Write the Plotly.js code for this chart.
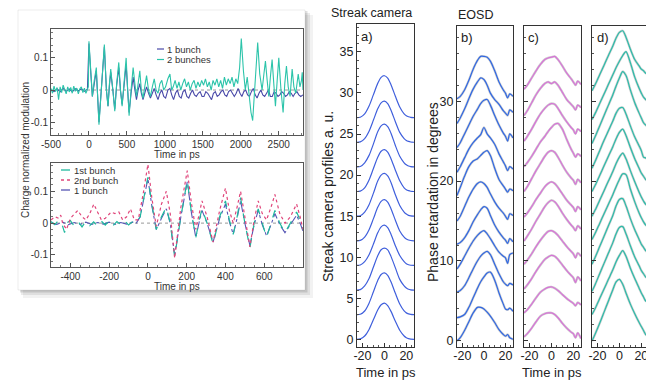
<!DOCTYPE html>
<html><head><meta charset="utf-8">
<script src="https://cdn.plot.ly/plotly-3.0.1.min.js"></script>
<style>html,body{margin:0;padding:0;overflow:hidden;background:#fff}#chart{width:652px;height:381px}</style>
</head><body><div id="chart"></div><script>
// ---------- data ----------
// Top-left: modulation vs time (ps)
const bunch2Top = [[-500,0.005],[-480,-0.01],[-460,0.012],[-440,-0.005],[-420,0.008],[-400,-0.03],[-380,0.01],[-360,-0.008],[-340,0.015],[-320,0.0],[-300,-0.012],[-280,0.01],[-260,-0.006],[-240,0.008],[-220,-0.01],[-200,0.012],[-180,-0.004],[-160,0.006],[-140,-0.012],[-120,0.004],[-100,0.01],[-80,-0.008],[-60,0.006],[-40,-0.01],[-20,0.005],[-8,0.01],[0,0.152],[25,0.05],[45,-0.02],[70,0.03],[97,0.07],[132,-0.108],[165,0.02],[203,0.142],[230,0.0],[251,-0.05],[270,0.02],[287,0.065],[315,0.0],[340,-0.066],[365,0.02],[393,0.086],[415,0.0],[437,-0.05],[465,0.03],[490,0.1],[510,0.0],[529,-0.08],[555,0.0],[582,0.07],[605,0.02],[626,-0.02],[648,0.02],[670,0.06],[690,0.0],[712,-0.025],[735,0.01],[759,0.045],[785,0.0],[810,-0.02],[835,0.01],[860,0.035],[885,0.0],[910,-0.01],[935,0.02],[960,0.03],[985,0.0],[1010,0.01],[1040,0.035],[1067,0.05],[1090,0.0],[1110,0.01],[1135,0.03],[1160,0.005],[1185,0.025],[1210,0.0],[1235,0.02],[1260,0.035],[1285,0.01],[1310,0.025],[1335,0.0],[1360,0.02],[1385,0.03],[1410,0.005],[1435,0.025],[1460,0.01],[1485,0.03],[1510,0.015],[1535,0.035],[1560,0.01],[1585,0.025],[1610,0.0],[1635,0.03],[1660,0.015],[1685,0.035],[1710,0.01],[1735,0.03],[1760,0.005],[1785,0.04],[1810,0.015],[1835,0.035],[1860,0.02],[1885,0.04],[1910,0.01],[1935,0.035],[1960,0.02],[1985,0.07],[2007,0.16],[2035,0.06],[2060,0.0],[2085,0.04],[2110,-0.02],[2135,-0.07],[2157,-0.095],[2185,0.02],[2223,0.148],[2250,0.05],[2281,0.0],[2305,0.05],[2325,0.09],[2348,0.03],[2369,-0.02],[2390,0.04],[2413,0.095],[2435,0.02],[2457,-0.05],[2480,0.03],[2501,0.1],[2530,0.0],[2558,-0.07],[2580,0.02],[2602,0.075],[2625,0.01],[2650,-0.02],[2677,0.065],[2700,0.01],[2725,-0.01],[2757,0.05],[2780,0.01],[2800,0.03],[2810,0.055],[2820,0.0]];
const bunch1Top = [[-500,0.0],[-460,-0.005],[-420,0.004],[-380,-0.006],[-340,0.005],[-300,-0.004],[-260,0.003],[-220,-0.005],[-180,0.004],[-140,-0.003],[-100,0.004],[-60,-0.004],[-20,0.003],[0,0.145],[25,0.05],[45,-0.02],[70,0.02],[97,0.06],[132,-0.1],[165,0.02],[203,0.135],[230,0.0],[251,-0.05],[270,0.015],[287,0.055],[315,0.0],[340,-0.06],[365,0.015],[393,0.07],[415,0.0],[437,-0.045],[465,0.02],[490,0.08],[510,0.0],[529,-0.07],[555,-0.01],[582,0.04],[605,0.0],[626,-0.03],[648,0.0],[670,0.02],[690,-0.01],[712,-0.03],[735,-0.01],[759,0.01],[785,-0.01],[810,-0.025],[835,-0.01],[860,0.005],[885,-0.015],[910,-0.03],[935,-0.01],[960,0.0],[985,-0.02],[1010,-0.025],[1040,0.0],[1067,0.005],[1090,-0.015],[1115,-0.03],[1140,-0.01],[1165,0.0],[1190,-0.02],[1215,-0.025],[1240,-0.005],[1265,0.0],[1290,-0.02],[1315,-0.025],[1340,-0.01],[1365,0.0],[1390,-0.015],[1415,-0.02],[1440,-0.01],[1465,-0.005],[1490,-0.02],[1515,-0.02],[1540,-0.005],[1565,-0.01],[1590,-0.02],[1615,-0.03],[1640,-0.01],[1665,-0.005],[1690,-0.02],[1715,-0.015],[1740,-0.005],[1765,0.0],[1790,-0.015],[1815,-0.02],[1840,-0.005],[1865,0.0],[1890,-0.01],[1915,-0.02],[1940,-0.01],[1965,0.005],[1990,-0.01],[2015,-0.02],[2040,-0.005],[2065,0.0],[2090,-0.015],[2115,-0.02],[2140,-0.005],[2165,0.005],[2190,-0.015],[2215,-0.025],[2240,-0.01],[2265,0.0],[2290,-0.015],[2315,-0.02],[2340,-0.01],[2365,0.0],[2390,-0.02],[2415,-0.02],[2440,-0.005],[2465,-0.01],[2490,-0.02],[2515,-0.015],[2540,-0.005],[2565,-0.01],[2590,-0.02],[2615,-0.015],[2640,-0.005],[2665,-0.01],[2690,-0.02],[2715,-0.01],[2740,-0.005],[2765,-0.015],[2790,-0.02],[2820,-0.015]];
// Bottom-left
const firstBunch = [[-500,0.005],[-480,-0.005],[-460,0.01],[-440,-0.01],[-430,-0.03],[-420,0.0],[-400,0.008],[-380,-0.01],[-360,0.005],[-340,-0.012],[-320,0.006],[-300,-0.008],[-280,0.004],[-260,-0.01],[-240,0.006],[-220,-0.006],[-200,0.008],[-180,-0.008],[-160,0.005],[-140,-0.005],[-120,0.008],[-100,-0.006],[-80,0.004],[-60,0.0],[-40,0.02],[-20,0.08],[0,0.145],[20,0.06],[43,-0.02],[70,0.02],[95,0.05],[115,0.0],[138,-0.105],[170,0.02],[203,0.135],[225,0.03],[247,-0.045],[265,0.01],[279,0.045],[305,0.0],[336,-0.065],[370,0.02],[400,0.07],[420,0.01],[440,-0.035],[460,0.02],[478,0.08],[500,0.0],[526,-0.078],[548,0.0],[569,0.045],[590,0.0],[612,-0.045],[635,0.0],[655,0.04],[680,0.0],[707,-0.03],[735,0.0],[767,0.035],[785,0.01],[800,-0.02]];
const secondBunch = [[-500,0.01],[-480,0.02],[-460,0.015],[-450,0.025],[-440,0.0],[-420,-0.02],[-400,0.015],[-380,0.03],[-362,0.04],[-340,0.02],[-320,0.01],[-300,0.03],[-279,0.06],[-260,0.035],[-240,0.01],[-220,0.015],[-200,0.03],[-190,0.035],[-170,0.03],[-150,0.035],[-130,0.01],[-110,0.02],[-90,0.045],[-70,0.01],[-50,0.01],[-25,0.09],[0,0.185],[20,0.08],[43,-0.01],[70,0.06],[95,0.1],[115,0.03],[138,-0.11],[170,0.05],[203,0.165],[225,0.06],[247,-0.02],[265,0.03],[279,0.07],[305,0.02],[336,-0.06],[370,0.04],[400,0.11],[420,0.04],[440,0.0],[460,0.05],[478,0.1],[500,0.02],[526,-0.075],[548,0.01],[569,0.07],[590,0.03],[612,0.01],[635,0.05],[655,0.09],[680,0.03],[707,0.0],[735,0.02],[767,0.06],[785,0.02],[800,-0.02]];
const oneBunch = [[-500,0.0],[-470,-0.004],[-440,0.003],[-410,-0.005],[-380,0.002],[-350,-0.004],[-320,0.003],[-290,-0.004],[-260,0.002],[-230,-0.003],[-200,0.003],[-170,-0.004],[-140,0.002],[-110,-0.003],[-80,0.003],[-60,0.0],[-40,0.02],[-20,0.075],[0,0.14],[20,0.055],[43,-0.02],[70,0.015],[95,0.045],[115,0.0],[138,-0.1],[170,0.02],[203,0.13],[225,0.03],[247,-0.045],[265,0.005],[279,0.04],[305,0.0],[336,-0.06],[370,0.015],[400,0.06],[420,0.005],[440,-0.035],[460,0.015],[478,0.07],[500,0.0],[526,-0.07],[548,-0.005],[569,0.04],[590,-0.005],[612,-0.04],[635,-0.005],[655,0.03],[680,-0.005],[707,-0.03],[735,-0.005],[767,0.025],[785,0.0],[800,-0.025]];

// Right panels: time samples (ps) shared by all profiles
const profTime = [-25,-22,-18,-14,-10,-6,-3,0,3,6,10,14,18,20,22,24,27];
// a) streak camera profiles
const streakProfiles = [
 [0,0.05,0.4,1.2,2.4,3.6,4.2,4.4,4.1,3.4,2.2,1.1,0.4,0.2,0.08,0.02,0],
 [3,3.05,3.45,4.4,5.8,7.2,7.9,8.1,7.8,7.0,5.6,4.3,3.45,3.22,3.1,3.03,3],
 [6,6.05,6.5,7.4,8.8,10.2,10.9,11.1,10.9,10.1,8.7,7.3,6.5,6.25,6.1,6.03,6],
 [9,9.05,9.45,10.3,11.6,13.0,13.7,13.9,13.6,12.8,11.4,10.2,9.45,9.2,9.08,9.02,9],
 [12,12.05,12.45,13.35,14.7,16.1,16.8,17.0,16.7,15.9,14.5,13.2,12.45,12.22,12.1,12.03,12],
 [15,15.05,15.5,16.4,17.8,19.3,20.0,20.2,19.9,19.1,17.6,16.3,15.5,15.25,15.1,15.03,15],
 [18,18.05,18.45,19.4,20.8,22.2,22.9,23.1,22.8,22.0,20.6,19.3,18.45,18.22,18.1,18.03,18],
 [21,21.05,21.5,22.4,23.8,25.3,26.0,26.2,25.9,25.1,23.6,22.3,21.5,21.25,21.1,21.03,21],
 [24,24.05,24.45,25.35,26.7,28.1,28.8,29.0,28.7,27.9,26.5,25.2,24.45,24.22,24.1,24.03,24],
 [27,27.05,27.45,28.4,29.8,31.2,31.9,32.1,31.8,31.0,29.6,28.3,27.45,27.22,27.1,27.03,27]];
// b) EOSD
const eosdB = [
 [0,0.4,1.3,2.4,3.5,4.2,4.2,4.0,3.6,3.1,2.3,1.4,0.8,0.6,0.8,0.4,0.2],
 [2.9,3.0,3.3,4.2,5.4,6.6,7.4,8.0,8.5,8.6,7.6,6.0,4.6,4.0,3.9,4.1,3.7],
 [6.1,6.3,6.9,7.9,9.0,10.0,10.6,11.0,11.2,10.8,9.6,8.4,7.4,7.1,6.9,7.2,7.0],
 [9.0,9.6,10.6,11.6,12.5,13.2,13.6,13.8,13.4,12.8,11.9,11.1,10.6,10.4,9.7,10.8,11.0],
 [12.1,12.3,12.9,13.8,14.9,15.8,16.4,16.8,16.6,15.7,14.5,13.6,12.9,12.6,12.2,12.8,12.4],
 [15.0,15.6,16.8,18.0,19.0,19.7,19.9,19.7,19.2,18.4,17.4,16.6,16.0,15.6,15.2,15.9,15.7],
 [18.2,19.2,20.6,21.8,22.5,22.8,23.2,23.6,23.8,23.2,21.6,20.2,19.4,19.0,18.6,19.0,18.8],
 [21.1,21.8,22.9,24.0,24.8,25.4,25.8,26.7,25.9,25.4,24.6,23.4,22.4,21.9,21.3,21.8,21.5],
 [24.2,24.8,25.9,27.0,28.1,29.0,29.7,30.1,30.2,29.5,28.2,27.0,26.0,25.6,25.0,25.9,25.4],
 [27.2,27.9,29.0,30.3,31.5,32.4,32.9,32.7,32.0,31.0,30.2,29.6,28.8,28.5,28.2,28.9,28.6],
 [30.3,30.6,31.4,32.6,34.0,35.1,35.6,35.6,35.5,35.0,33.8,32.4,31.4,31.0,30.4,30.9,30.6]];
// c) EOSD
const eosdC = [
 [0.5,0.9,1.6,2.4,3.1,3.4,3.5,3.5,3.3,2.9,2.2,1.6,1.1,0.9,0.4,1.0,0.3],
 [3.5,3.9,4.6,5.4,6.1,6.5,6.7,6.75,6.6,6.3,5.8,5.3,4.9,4.7,4.4,4.8,4.5],
 [6.5,7.0,7.8,8.7,9.5,10.2,10.5,10.7,10.6,10.2,9.5,8.8,8.2,7.9,7.3,8.0,7.5],
 [9.6,10.1,10.9,11.8,12.6,13.3,13.7,13.8,13.6,13.2,12.5,11.8,11.2,10.9,10.4,11.0,10.6],
 [12.5,13.1,14.0,15.0,15.9,16.8,17.3,17.6,17.4,16.9,16.0,15.2,14.5,14.2,13.8,14.4,14.0],
 [15.5,16.0,16.8,17.7,18.5,19.3,19.7,19.9,19.7,19.2,18.4,17.6,17.0,16.7,16.2,16.8,16.4],
 [18.7,19.3,20.3,21.3,22.2,23.1,23.6,23.8,23.6,23.0,22.0,21.1,20.4,20.1,19.6,20.2,19.8],
 [21.8,22.3,23.1,24.0,24.9,25.6,26.2,26.7,27.1,27.2,26.5,25.2,24.0,23.5,23.0,23.4,23.1],
 [25.0,25.6,26.5,27.5,28.4,29.1,29.5,29.7,29.6,29.1,28.2,27.4,26.7,26.4,25.9,26.5,26.2],
 [28.2,28.8,29.8,30.8,31.6,32.2,32.4,32.2,32.4,32.0,31.1,30.2,29.6,29.3,28.9,29.5,29.2],
 [31.5,32.0,32.9,33.8,34.6,35.2,35.4,35.5,35.6,35.2,34.4,33.5,32.8,32.4,32.0,32.5,32.1]];
// d) EOSD
const eosdD = [
 [0.0,0.9,2.2,3.6,5.0,6.4,7.4,7.7,7.1,6.0,4.6,3.4,2.3,1.8,1.3,0.8,0.5],
 [3.3,4.1,5.3,6.5,7.7,8.9,9.9,10.7,11.3,10.6,9.1,7.8,6.6,6.0,5.5,5.0,4.8],
 [6.2,7.1,8.4,9.7,11.0,12.3,13.4,14.2,14.3,13.4,11.9,10.5,9.4,8.8,8.4,8.0,7.8],
 [9.6,10.5,11.8,13.1,14.4,15.7,16.9,17.7,17.8,16.9,15.3,13.9,12.7,12.1,11.7,11.3,11.0],
 [12.7,13.5,14.7,15.9,17.1,18.3,19.3,20.2,20.9,20.8,19.0,17.4,16.0,15.4,14.9,14.5,14.2],
 [15.6,16.4,17.6,18.8,20.0,21.2,22.2,23.0,23.5,22.8,21.3,19.9,18.6,18.0,17.5,17.1,16.8],
 [18.7,19.5,20.7,21.9,23.1,24.3,25.3,26.1,26.5,25.7,24.2,22.8,21.6,21.0,20.6,20.2,19.9],
 [21.6,22.5,23.8,25.1,26.3,27.5,28.5,29.1,29.2,28.4,26.9,25.5,24.4,23.8,23.0,22.9,22.6],
 [24.7,25.6,26.9,28.2,29.5,30.8,31.9,32.9,33.7,33.2,31.4,29.8,28.5,27.9,27.3,27.0,26.7],
 [27.7,28.5,29.7,30.9,32.1,33.3,34.2,35.0,35.7,36.2,34.8,33.0,31.6,31.0,30.5,30.2,29.9],
 [31.3,32.1,33.3,34.5,35.7,36.9,37.9,38.6,38.8,38.0,36.5,35.2,34.4,34.0,33.8,33.5,33.3]];
// tick labels (hyphen minus as in the original)
const profTicks = [-20,0,20], profTickText = ['-20','0','20'];
const topTicks = [-500,0,500,1000,1500,2000,2500], topTickText = ['-500','0','500','1000','1500','2000','2500'];
const botTicks = [-400,-200,0,200,400,600], botTickText = ['-400','-200','0','200','400','600'];
const modTicks = [-0.1,0,0.1], modTickText = ['-0.1','0','0.1'];

// ---------- layout helpers ----------
const W = 652, H = 381;
const px = x => x / W, py = y => 1 - y / H;
const FONT = 'Liberation Sans, Arial, Helvetica, sans-serif';
const C = {
  blueTop:'#4848a8', tealTop:'#2cc4aa',
  teal1:'#1fb89e', pink:'#e0457a', blue1:'#5656b4',
  a:'#3f5fdc', b:'#3068e4', c:'#d872d8', d:'#2cbcaa', env:'rgba(160,160,160,0.5)'
};
const col = (arr, i) => arr.map(p => p[i]);

const traces = [];
function lineTrace(xs, ys, xa, ya, color, width, dash, shape) {
  traces.push({type:'scatter', mode:'lines', x:xs, y:ys, xaxis:xa, yaxis:ya,
    line:{color:color, width:width, dash:dash||'solid', shape:shape||'linear', smoothing:0.8},
    hoverinfo:'skip', showlegend:false});
}
// top-left
lineTrace(col(bunch1Top,0), col(bunch1Top,1), 'x', 'y', C.blueTop, 1.1);
lineTrace(col(bunch2Top,0), col(bunch2Top,1), 'x', 'y', C.tealTop, 1.1);
// bottom-left
lineTrace(col(oneBunch,0), col(oneBunch,1), 'x2', 'y2', C.blue1, 1.1, 'dashdot');
lineTrace(col(firstBunch,0), col(firstBunch,1), 'x2', 'y2', C.teal1, 1.2, 'dash');
lineTrace(col(secondBunch,0), col(secondBunch,1), 'x2', 'y2', C.pink, 1.2, 'dot');
// a)
streakProfiles.forEach(p => lineTrace(profTime, p, 'x3', 'y3', C.a, 1.2, 'solid', 'spline'));
// b), c), d) with grey envelopes
[[eosdB,'x4','y4',C.b],[eosdC,'x5','y5',C.c],[eosdD,'x6','y6',C.d]].forEach(([set,xa,ya,color]) => {
  set.forEach(p => lineTrace(profTime, p, xa, ya, C.env, 2.4, 'solid', 'spline'));
  set.forEach(p => lineTrace(profTime, p, xa, ya, color, 1.2, 'solid', 'spline'));
});

const baseAxis = {showgrid:false, zeroline:false, showline:true, mirror:true, linewidth:1,
  ticks:'inside', ticklen:4, tickwidth:1, fixedrange:true};
function ax(o) { return Object.assign({}, baseAxis, o); }

const leftTick = {size:10, color:'#333', family:FONT};
const rightTick = {size:12.5, color:'#222', family:FONT};
const yDomRight = [py(347.3), py(26)];
const profX = {range:[-25,27], tickvals:profTicks, ticktext:profTickText, ticklabelstandoff:-3,
  linecolor:'#333', tickcolor:'#333', tickfont:rightTick,
  minor:{dtick:5, tick0:0, ticklen:2, ticks:'inside', tickcolor:'#555'}};

const layout = {
  width:W, height:H, margin:{l:0,r:0,t:0,b:0},
  paper_bgcolor:'#fff', plot_bgcolor:'rgba(0,0,0,0)',
  font:{family:FONT, color:'#222'}, showlegend:false, hovermode:false,
  xaxis: ax({domain:[px(51),px(303)], anchor:'y', range:[-500,2820], tickvals:topTicks, ticktext:topTickText,
    linecolor:'#555', tickcolor:'#555', tickfont:leftTick,
    minor:{dtick:100, tick0:0, ticklen:2, ticks:'inside', tickcolor:'#777'}}),
  yaxis: ax({domain:[py(135),py(29)], anchor:'x', range:[-0.14,0.19], tickvals:modTicks, ticktext:modTickText,
    linecolor:'#555', tickcolor:'#555', tickfont:leftTick,
    minor:{dtick:0.02, tick0:0, ticklen:2, ticks:'inside', tickcolor:'#777'}}),
  xaxis2: ax({domain:[px(51),px(303)], anchor:'y2', range:[-500,800], tickvals:botTicks, ticktext:botTickText,
    linecolor:'#555', tickcolor:'#555', tickfont:leftTick,
    minor:{dtick:50, tick0:0, ticklen:2, ticks:'inside', tickcolor:'#777'}}),
  yaxis2: ax({domain:[py(267),py(162.7)], anchor:'x2', range:[-0.138,0.19], tickvals:modTicks, ticktext:modTickText,
    linecolor:'#555', tickcolor:'#555', tickfont:leftTick,
    minor:{dtick:0.02, tick0:0, ticklen:2, ticks:'inside', tickcolor:'#777'}}),
  xaxis3: ax(Object.assign({domain:[px(357),px(414)], anchor:'y3'}, profX)),
  yaxis3: ax({domain:[py(346.7),py(24)], anchor:'x3', range:[-0.9,38.4], tick0:0, dtick:5,
    linecolor:'#333', tickcolor:'#333', tickfont:rightTick,
    minor:{dtick:1, ticklen:2, ticks:'inside', tickcolor:'#555'}}),
  xaxis4: ax(Object.assign({domain:[px(457),px(513)], anchor:'y4'}, profX)),
  yaxis4: ax({domain:yDomRight, anchor:'x4', range:[-0.8,39.4], tick0:0, dtick:10,
    linecolor:'#333', tickcolor:'#333', tickfont:rightTick,
    minor:{dtick:2, ticklen:2, ticks:'inside', tickcolor:'#555'}}),
  xaxis5: ax(Object.assign({domain:[px(524),px(581)], anchor:'y5'}, profX)),
  yaxis5: ax({domain:yDomRight, anchor:'x5', range:[-0.8,39.4], tick0:0, dtick:10, showticklabels:false,
    linecolor:'#333', tickcolor:'#333',
    minor:{dtick:2, ticklen:2, ticks:'inside', tickcolor:'#555'}}),
  xaxis6: ax(Object.assign({domain:[px(592),px(649)], anchor:'y6'}, profX)),
  yaxis6: ax({domain:yDomRight, anchor:'x6', range:[-0.8,39.4], tick0:0, dtick:10, showticklabels:false,
    linecolor:'#333', tickcolor:'#333',
    minor:{dtick:2, ticklen:2, ticks:'inside', tickcolor:'#555'}}),
  shapes: [
    // left box with drop shadow
    {type:'rect', xref:'paper', yref:'paper', x0:px(23), x1:px(313), y0:py(298), y1:py(15), fillcolor:'rgba(0,0,0,0.05)', line:{width:0}, layer:'below'},
    {type:'rect', xref:'paper', yref:'paper', x0:px(21), x1:px(310), y0:py(295), y1:py(13), fillcolor:'rgba(0,0,0,0.08)', line:{width:0}, layer:'below'},
    {type:'rect', xref:'paper', yref:'paper', x0:px(20), x1:px(307.5), y0:py(292.5), y1:py(11), fillcolor:'rgba(0,0,0,0.12)', line:{width:0}, layer:'below'},
    {type:'rect', xref:'paper', yref:'paper', x0:px(18), x1:px(305), y0:py(290), y1:py(10), fillcolor:'#fff', line:{width:1, color:'rgba(0,0,0,0.07)'}, layer:'below'},
    // zero reference lines
    {type:'line', xref:'x', yref:'y', x0:-500, x1:2820, y0:0, y1:0, line:{color:'#999', width:1, dash:'dot'}, layer:'below'},
    {type:'line', xref:'x2', yref:'y2', x0:-500, x1:800, y0:0, y1:0, line:{color:'#999', width:1, dash:'dot'}, layer:'below'},
    // legend samples top
    {type:'line', xref:'paper', yref:'paper', x0:px(157), x1:px(164), y0:py(49), y1:py(49), line:{color:C.blueTop, width:1.2}},
    {type:'line', xref:'paper', yref:'paper', x0:px(157), x1:px(164), y0:py(59.5), y1:py(59.5), line:{color:C.tealTop, width:1.2}},
    // legend samples bottom
    {type:'line', xref:'paper', yref:'paper', x0:px(61), x1:px(71), y0:py(170), y1:py(170), line:{color:C.teal1, width:1.3, dash:'dash'}},
    {type:'line', xref:'paper', yref:'paper', x0:px(61), x1:px(71), y0:py(180), y1:py(180), line:{color:C.pink, width:1.3, dash:'dot'}},
    {type:'line', xref:'paper', yref:'paper', x0:px(61), x1:px(71), y0:py(190), y1:py(190), line:{color:C.blue1, width:1.3, dash:'dashdot'}}
  ],
  annotations: []
};

function note(text, x, y, size, opts) {
  layout.annotations.push(Object.assign({text:text, xref:'paper', yref:'paper', x:px(x), y:py(y),
    showarrow:false, xanchor:'center', yanchor:'middle', borderpad:0, font:{size:size, color:'#222', family:FONT}}, opts||{}));
}
const small = {size:10, color:'#333', family:FONT};
const legendFont = {size:9.5, color:'#333', family:FONT};
note('Charge normalized modulation', 25, 150, 10, {textangle:-90, font:small});
note('Time in ps', 177, 154.5, 10, {font:small});
note('Time in ps', 177, 286, 10, {font:small});
note('1 bunch', 166, 49, 9.5, {xanchor:'left', font:legendFont});
note('2 bunches', 166, 59.5, 9.5, {xanchor:'left', font:legendFont});
note('1st bunch', 73, 170, 9.5, {xanchor:'left', font:legendFont});
note('2nd bunch', 73, 180, 9.5, {xanchor:'left', font:legendFont});
note('1 bunch', 73, 190, 9.5, {xanchor:'left', font:legendFont});
note('Streak camera', 371, 13, 12.5);
note('Streak camera profiles a. u.', 328, 197, 14, {textangle:-90});
note('Time in ps', 386, 372, 13);
note('EOSD', 457, 15, 12.5, {xanchor:'left'});
note('Phase retardation in degrees', 433, 192, 14, {textangle:-90});
note('Time in ps', 552, 372, 13);
note('a)', 360, 36, 13, {xanchor:'left'});
note('b)', 460, 38, 13, {xanchor:'left'});
note('c)', 527, 38, 13, {xanchor:'left'});
note('d)', 596, 38, 13, {xanchor:'left'});

Plotly.newPlot('chart', traces, layout, {staticPlot:true, displayModeBar:false});
</script></body></html>
